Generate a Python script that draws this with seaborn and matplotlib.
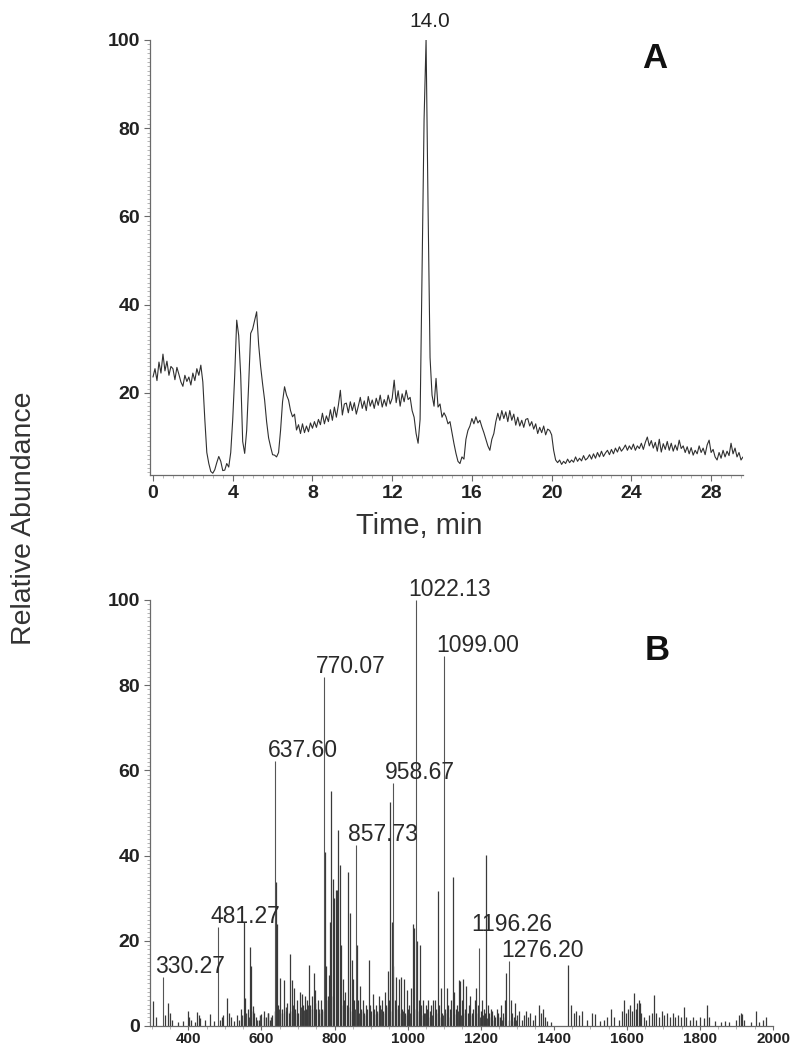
import numpy as np
import pandas as pd
import matplotlib
matplotlib.use("Agg")
import matplotlib.pyplot as plt
import seaborn as sns
from matplotlib.ticker import MultipleLocator

# ---------------- Panel A: chromatogram ----------------
scan_start = 0.0          # min
scan_step = 0.1           # min between scans
tic_abundance = [
    23.6, 25.5, 22.8, 27.0, 24.5, 28.8, 25.0, 27.2, 24.0, 26.0,
    25.5, 23.0, 25.8, 24.2, 22.5, 21.5, 24.0, 22.6, 23.6, 21.8,
    24.5, 22.8, 25.5, 24.0, 26.3, 22.5, 14.0, 6.5, 4.0, 2.2,
    1.8, 2.6, 4.2, 5.6, 4.5, 2.4, 2.5, 4.0, 3.2, 6.5,
    14.0, 24.0, 36.5, 33.0, 24.0, 9.0, 6.3, 11.5, 22.0, 33.5,
    34.5, 36.5, 38.4, 31.0, 26.0, 22.0, 18.4, 13.5, 9.8, 7.8,
    6.0, 5.9, 5.5, 6.5, 11.5, 18.0, 21.4, 19.5, 18.4, 16.0,
    14.6, 15.2, 11.6, 12.8, 10.8, 13.0, 11.0, 12.5, 11.2, 13.2,
    12.0, 13.5, 12.2, 14.0, 12.8, 15.4, 13.0, 14.8, 13.5, 16.2,
    13.8, 16.8, 14.5, 17.2, 20.6, 15.0, 17.5, 17.7, 15.5, 18.0,
    16.0, 17.8, 15.2, 17.0, 19.0, 16.5, 18.2, 16.0, 19.2, 17.0,
    18.4, 16.5, 18.8, 17.2, 19.5, 16.8, 18.5, 17.0, 19.5, 17.5,
    18.8, 22.9, 17.8, 20.5, 17.0, 19.8, 18.0, 20.6, 18.5, 19.0,
    16.0, 14.5, 10.8, 8.6, 14.0, 48.0, 82.0, 100.0, 62.0, 28.0,
    19.5, 17.0, 23.3, 16.8, 17.5, 14.5, 15.5, 14.6, 13.0, 13.5,
    11.0, 8.5, 6.3, 4.5, 4.0, 5.5, 5.0, 9.5, 11.5, 12.5,
    14.2, 13.0, 14.6, 13.2, 13.8, 12.3, 11.0, 9.5, 8.0, 7.0,
    9.5, 10.8, 13.5, 15.4, 13.8, 16.0, 14.2, 15.7, 13.5, 16.0,
    13.8, 15.2, 12.7, 14.5, 12.5, 13.8, 12.2, 14.0, 14.2, 12.5,
    13.5, 11.8, 13.0, 10.8, 12.2, 11.0, 12.5, 10.5, 11.8, 11.5,
    10.5, 7.0, 4.8, 4.2, 4.8, 3.8, 4.5, 4.0, 5.0, 4.2,
    4.8, 4.3, 5.5, 4.5, 5.2, 4.6, 5.8, 4.8, 5.2, 6.0,
    5.0, 6.2, 5.2, 6.5, 5.5, 6.8, 5.6, 6.4, 7.0, 6.0,
    7.2, 6.2, 7.5, 6.6, 7.8, 6.8, 7.4, 8.2, 7.0, 8.0,
    7.2, 8.4, 7.0, 8.0, 7.4, 8.6, 7.2, 8.8, 10.0, 8.0,
    9.2, 7.5, 8.8, 6.8, 9.5, 6.6, 8.5, 7.2, 9.0, 7.0,
    8.6, 6.8, 8.2, 7.0, 9.3, 7.4, 8.0, 6.5, 7.8, 6.2,
    7.6, 5.9, 7.0, 6.2, 8.0, 6.5, 7.5, 6.0, 8.2, 9.3,
    6.5, 7.2, 5.5, 4.8, 6.5, 5.2, 7.0, 5.5, 6.8, 5.8,
    8.6, 6.2, 7.5, 5.5, 6.5, 4.8, 5.5,
]
peak_a_time = 13.7
peak_a_label = "14.0"
time_ticks = [0, 4, 8, 12, 16, 20, 24, 28]
abund_ticks_a = [20, 40, 60, 80, 100]

# ---------------- Panel B: mass spectrum ----------------
labeled_mz = [330.27, 481.27, 637.60, 770.07, 857.73, 958.67, 1022.13, 1099.00, 1196.26, 1276.20]
labeled_int = [11.5, 23.3, 62.2, 82.0, 42.4, 57.0, 100.0, 86.9, 18.2, 15.2]

other_mz = [
    302, 312, 336, 345, 350, 356, 372, 386, 398, 402,
    406, 418, 424, 428, 432, 446, 458, 470, 486, 492,
    496, 505, 510, 518, 524, 533, 538, 544, 551, 556,
    562, 569, 572, 576, 580, 586, 592, 598, 606, 612,
    618, 624, 630, 640.5, 643, 646, 651.5, 655, 660.5, 666,
    671, 675, 679, 684, 688, 692, 697, 701, 706, 710,
    714, 718, 722, 725, 729, 733, 737, 742.7, 746, 750,
    754, 758, 762, 765, 774.7, 778, 782, 785, 788.4, 791.2,
    795.8, 799, 803, 806, 810.3, 814, 818, 822, 826, 830,
    834, 837.7, 843.2, 847, 851, 854, 861, 865, 869, 873,
    877, 881, 885, 889, 893.4, 897, 901, 905, 909, 913,
    917, 921, 925, 929, 933, 937, 941, 945.4, 949, 952.8,
    956, 961, 965, 969, 973, 977, 981, 985, 989, 993,
    997, 1001, 1005, 1009, 1015, 1018, 1026, 1030, 1033, 1037,
    1041, 1045, 1049, 1053, 1057, 1061, 1065, 1069, 1074, 1078,
    1082.5, 1087, 1091, 1095, 1103, 1107, 1111, 1115, 1119, 1124.4,
    1128, 1132, 1136, 1140.5, 1144, 1148, 1152, 1156, 1160, 1164,
    1168, 1172, 1176, 1180, 1184, 1188.5, 1192, 1200, 1204, 1208,
    1212, 1215.8, 1220, 1224, 1228, 1232, 1236, 1240, 1244, 1248,
    1252, 1256, 1262, 1266, 1270.6, 1282, 1286, 1290, 1294, 1300,
    1306, 1312, 1318, 1324, 1330, 1336, 1342, 1350, 1359, 1364,
    1370, 1376, 1382, 1392, 1439, 1448, 1456, 1462, 1470, 1478,
    1490, 1504, 1514, 1526, 1538, 1546, 1557.5, 1566, 1578, 1586,
    1592.5, 1598, 1604, 1610, 1614, 1620, 1624, 1628, 1632, 1636,
    1640, 1646, 1652, 1660, 1668, 1675, 1680, 1688, 1696, 1702,
    1710, 1718, 1726, 1732, 1740, 1748, 1755.6, 1762, 1772, 1782,
    1790, 1800, 1810, 1818.5, 1826, 1840, 1858, 1868, 1880, 1898,
    1906, 1911.6, 1916, 1922, 1940, 1952.8, 1962, 1972, 1982,
]
other_int = [
    5.8, 2.0, 2.5, 5.4, 3.0, 1.5, 1.0, 1.2, 3.5, 2.0,
    1.5, 1.0, 3.2, 2.5, 1.8, 1.5, 2.8, 1.2, 1.5, 2.0,
    2.5, 6.5, 3.0, 2.0, 1.2, 2.5, 1.5, 4.0, 24.5, 6.5,
    4.0, 18.6, 14.0, 4.7, 3.0, 2.2, 1.5, 2.8, 3.5, 2.0,
    3.0, 1.5, 2.5, 33.8, 24.0, 5.0, 11.2, 4.0, 10.8, 3.5,
    5.5, 3.0, 17.0, 10.8, 9.0, 4.0, 6.0, 3.0, 8.0, 7.5,
    5.0, 7.0, 4.0, 6.0, 14.3, 5.0, 7.0, 12.4, 8.5, 4.0,
    6.0, 3.0, 6.0, 4.0, 40.8, 14.0, 7.0, 12.0, 24.5, 55.2,
    34.6, 30.0, 32.0, 32.0, 45.9, 37.7, 19.0, 11.0, 6.0, 8.0,
    5.0, 36.1, 26.5, 15.5, 11.0, 6.0, 19.0, 6.0, 9.5, 4.0,
    6.0, 3.0, 5.0, 4.0, 15.5, 5.0, 3.5, 7.5, 4.0, 5.0,
    3.0, 7.0, 5.0, 6.0, 3.5, 8.0, 5.0, 12.8, 6.0, 52.5,
    24.5, 14.2, 6.0, 11.5, 5.0, 11.0, 11.5, 4.0, 11.0, 3.0,
    8.5, 4.0, 5.0, 9.0, 24.0, 23.0, 20.0, 6.0, 19.0, 5.0,
    6.0, 3.0, 5.0, 4.0, 6.0, 3.5, 5.0, 6.0, 6.0, 4.0,
    31.8, 5.0, 9.0, 3.0, 4.0, 9.0, 5.0, 4.0, 6.0, 35.0,
    8.0, 4.0, 5.0, 10.8, 10.5, 6.0, 11.0, 4.0, 9.5, 3.0,
    5.0, 7.0, 3.0, 4.0, 6.0, 9.0, 5.0, 3.5, 6.0, 4.0,
    3.0, 40.2, 5.0, 3.0, 4.0, 3.5, 2.5, 2.0, 4.0, 3.0,
    2.0, 5.0, 3.0, 6.0, 12.4, 6.0, 3.0, 2.0, 5.5, 2.5,
    3.5, 1.5, 2.5, 3.5, 2.0, 3.0, 1.5, 2.5, 5.0, 3.0,
    4.0, 2.0, 1.2, 1.0, 14.3, 5.0, 3.0, 3.5, 2.5, 3.5,
    1.5, 3.0, 2.8, 1.2, 1.5, 2.2, 4.0, 2.0, 1.5, 3.5,
    6.0, 3.0, 4.0, 5.0, 3.5, 7.7, 4.0, 5.5, 6.0, 5.5,
    3.0, 2.0, 1.5, 2.5, 3.0, 7.2, 3.0, 2.0, 3.5, 2.5,
    3.0, 2.0, 3.0, 2.0, 2.5, 2.0, 4.5, 2.0, 1.5, 2.0,
    1.5, 2.0, 1.8, 5.0, 2.0, 1.2, 1.0, 1.2, 1.0, 1.5,
    2.5, 3.0, 2.8, 1.5, 1.0, 3.5, 1.0, 1.5, 2.0,
]
# low-level background ions between the main peaks
background_mz = [
    547, 557, 567, 577, 587, 597, 607, 617, 627, 637,
    647, 657, 667, 677, 687, 697, 707, 717, 727, 737,
    747, 757, 767, 777, 787, 797, 807, 817, 827, 837,
    847, 857, 867, 877, 887, 897, 907, 917, 927, 937,
    947, 957, 967, 977, 987, 997, 1007, 1017, 1027, 1037,
    1047, 1057, 1067, 1077, 1087, 1097, 1107, 1117, 1127, 1137,
    1147, 1157, 1167, 1177, 1187, 1197, 1207, 1217, 1227, 1237,
    1247, 1257, 1267, 1277, 1287, 1297,
]
background_int = [
    2.5, 3.0, 2.0, 3.5, 1.5, 2.5, 2.0, 3.0, 2.2, 3.5,
    4.0, 3.0, 4.5, 3.5, 5.0, 3.0, 4.5, 3.8, 5.0, 4.0,
    5.5, 4.0, 3.5, 6.0, 5.0, 7.0, 6.0, 5.0, 4.0, 4.5,
    3.5, 4.0, 3.0, 3.5, 2.5, 3.0, 2.8, 3.5, 4.0, 3.0,
    4.5, 3.5, 4.0, 3.0, 3.5, 2.5, 3.0, 4.0, 3.5, 2.5,
    3.0, 2.0, 2.5, 3.0, 2.0, 2.5, 3.0, 2.0, 2.8, 3.5,
    2.5, 3.0, 2.0, 2.5, 3.0, 2.0, 2.5, 1.8, 2.2, 1.5,
    2.0, 1.5, 2.0, 1.5, 1.2, 1.5,
]
mz_ticks = [400, 600, 800, 1000, 1200, 1400, 1600, 1800, 2000]
abund_ticks_b = [0, 20, 40, 60, 80, 100]

# ---------------- style ----------------
sns.set_theme(style="ticks")
plt.rcParams["font.family"] = ["Liberation Sans", "DejaVu Sans"]
axis_col = "#6a6a6a"
text_col = "#222222"
label_lift = {"1196.26": 9.5}   # extra upward offset (pt) for crowded labels

W, H = 809, 1050
fig = plt.figure(figsize=(W / 100, H / 100), dpi=100)
axA = fig.add_axes([150 / W, 1 - 475 / H, (743 - 150) / W, (475 - 40) / H])
axB = fig.add_axes([150 / W, 1 - 1026 / H, (773 - 150) / W, (1026 - 600) / H])

# Panel A
times = scan_start + scan_step * np.arange(len(tic_abundance))
dfA = pd.DataFrame({"time": times, "abundance": tic_abundance})
sns.lineplot(data=dfA, x="time", y="abundance", ax=axA, color="#303030",
             linewidth=0.8, estimator=None, sort=False)
axA.set_xlim(-0.15, 29.6)
axA.set_ylim(1.4, 100)
axA.set_xticks(time_ticks, [str(t) for t in time_ticks], fontsize=14,
               fontweight="bold", color=text_col)
axA.set_yticks(abund_ticks_a, [str(t) for t in abund_ticks_a], fontsize=14,
               fontweight="bold", color=text_col)
axA.xaxis.set_minor_locator(MultipleLocator(0.5))
axA.yaxis.set_minor_locator(MultipleLocator(1))
axA.set_xlabel("")
axA.set_ylabel("")
axA.annotate(peak_a_label, xy=(peak_a_time, 100), xytext=(3, 9),
             textcoords="offset points", ha="center", va="baseline",
             fontsize=15, color=text_col, annotation_clip=False)

# Panel B
dfB_bg = pd.DataFrame({"mz": background_mz, "intensity": background_int})
dfB_other = pd.DataFrame({"mz": other_mz, "intensity": other_int})
dfB_lab = pd.DataFrame({"mz": labeled_mz, "intensity": labeled_int})
axB.vlines(dfB_bg["mz"], 0, dfB_bg["intensity"], color="#4a4a4a", linewidth=1.0)
axB.vlines(dfB_other["mz"], 0, dfB_other["intensity"], color="#3a3a3a", linewidth=0.9)
axB.vlines(dfB_lab["mz"], 0, dfB_lab["intensity"], color="#555555", linewidth=0.8)
axB.set_xlim(295, 2000)
axB.set_ylim(0, 100)
axB.set_xticks(mz_ticks, [str(t) for t in mz_ticks], fontsize=11,
               fontweight="bold", color=text_col)
axB.set_yticks(abund_ticks_b, [str(t) for t in abund_ticks_b], fontsize=14,
               fontweight="bold", color=text_col)
axB.xaxis.set_minor_locator(MultipleLocator(50))
axB.yaxis.set_minor_locator(MultipleLocator(1))
for mz, inten in zip(labeled_mz, labeled_int):
    txt = f"{mz:.2f}"
    axB.annotate(txt, xy=(mz, inten), xytext=(-5.5, 3 + label_lift.get(txt, 0)),
                 textcoords="offset points", ha="left", va="baseline",
                 fontsize=16.5, color="#2a2a2a", annotation_clip=False)

for ax in (axA, axB):
    sns.despine(ax=ax)
    for s in ("left", "bottom"):
        ax.spines[s].set_color(axis_col)
        ax.spines[s].set_linewidth(0.9)
    ax.tick_params(which="major", direction="out", length=4, width=0.8,
                   color=axis_col, pad=3)
    ax.tick_params(which="minor", direction="out", length=2.5, width=0.5,
                   color="#9a9a9a")
    ax.grid(False)
axB.tick_params(axis="x", which="major", length=3, pad=1)
axB.tick_params(axis="x", which="minor", length=2)

fig.text(24 / W, 1 - 518 / H, "Relative Abundance", rotation=90,
         ha="center", va="center", fontsize=20.5, color="#333333")
fig.text(419 / W, 1 - 526 / H, "Time, min", ha="center", va="center",
         fontsize=21, color="#333333")
fig.text(655 / W, 1 - 59 / H, "A", ha="center", va="center",
         fontsize=25, fontweight="bold", color="#111111")
fig.text(657 / W, 1 - 651 / H, "B", ha="center", va="center",
         fontsize=25, fontweight="bold", color="#111111")

fig.savefig("out.png", dpi=100)
